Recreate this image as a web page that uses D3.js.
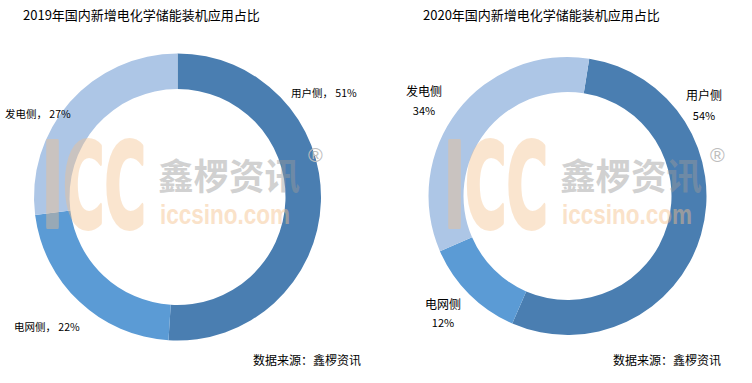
<!DOCTYPE html>
<html><head><meta charset="utf-8">
<script src="https://cdn.jsdelivr.net/npm/d3@7"></script>
<style>
html,body{margin:0;padding:0;background:#fff;}
svg{display:block;font-family:"Noto Sans CJK SC","Microsoft YaHei",sans-serif;}
</style></head>
<body><svg id="c" width="752" height="383"></svg>
<script>
const categories = ["用户侧", "电网侧", "发电侧"];
const values2019 = [51, 22, 27];
const values2020 = [54, 12, 34];
const titles = ["2019年国内新增电化学储能装机应用占比", "2020年国内新增电化学储能装机应用占比"];
const sourceText = "数据来源：鑫椤资讯";
const colors = ["#4a7eb1", "#5b9bd5", "#adc6e6"];

const svg = d3.select("#c");
const color = d3.scaleOrdinal().domain(categories).range(colors);

function watermark(g, x, y) {
  const w = g.append("g").attr("transform", `translate(${x},${y})`);
  w.append("g").attr("opacity", 0.4).append("text").attr("x", 2).attr("y", 87)
    .attr("textLength", 104).attr("lengthAdjust", "spacingAndGlyphs")
    .style("font-family", "'DejaVu Sans',sans-serif")
    .style("font-weight", "bold").style("font-size", "118px")
    .attr("fill", "#f5c08a").attr("stroke", "#f5c08a").attr("stroke-width", 4)
    .attr("stroke-linejoin", "round").text("ICC");
  w.append("g").attr("opacity", 0.45).append("text").attr("x", 118).attr("y", 50)
    .attr("textLength", 142).attr("lengthAdjust", "spacingAndGlyphs")
    .style("font-size", "36px").style("font-weight", "bold")
    .attr("fill", "#9a9a9a").text("鑫椤资讯");
  w.append("g").attr("opacity", 0.45).append("text").attr("x", 120).attr("y", 84)
    .attr("textLength", 130).attr("lengthAdjust", "spacingAndGlyphs")
    .style("font-family", "'Liberation Sans',Arial,sans-serif")
    .style("font-weight", "bold").style("font-size", "28px")
    .attr("fill", "#f5c08a").text("iccsino.com");
  w.append("text").attr("x", 268).attr("y", 22)
    .style("font-family", "'Liberation Sans',Arial,sans-serif")
    .style("font-size", "20px").attr("fill", "#bdbdbd").text("®");
}

function donut(cfg) {
  const g = svg.append("g");
  g.append("text").attr("x", cfg.tx).attr("y", 20)
    .style("font-size", "13px").attr("fill", "#000").text(cfg.title);
  const pie = d3.pie().sort(null).value(d => d.v)
    .startAngle(cfg.start).endAngle(cfg.start + 2 * Math.PI);
  const arc = d3.arc().innerRadius(cfg.ri).outerRadius(cfg.ro);
  const data = categories.map((c, i) => ({c, v: cfg.values[i]}));
  const cg = g.append("g").attr("transform", `translate(${cfg.cx},${cfg.cy})`);
  cg.selectAll("path").data(pie(data)).join("path")
    .attr("d", arc).attr("fill", d => color(d.data.c));
  watermark(g, cfg.wx, cfg.wy);
  cfg.labels(g, data);
  g.append("text").attr("x", cfg.sx).attr("y", 365)
    .style("font-size", "12px").attr("fill", "#000").text(sourceText);
}

donut({
  title: titles[0], tx: 23, values: values2019, cx: 177.5, cy: 197, ro: 143.5, ri: 108,
  start: 0, wx: 40, wy: 140, sx: 253,
  labels: (g, data) => {
    const pos = [[291, 97], [14, 331], [5, 118]];
    data.forEach((d, i) => {
      g.append("text").attr("x", pos[i][0]).attr("y", pos[i][1])
        .style("font-size", "10.5px").attr("fill", "#000")
        .attr("xml:space", "preserve")
        .text(`${d.c}， ${d.v}%`);
    });
  }
});

donut({
  title: titles[1], tx: 423, values: values2020, cx: 567.5, cy: 196, ro: 139, ri: 104,
  start: 9 * Math.PI / 180, wx: 442, wy: 140, sx: 613,
  labels: (g, data) => {
    const pos = [[704, 100, 120], [443, 309, 327], [424, 96, 115]];
    data.forEach((d, i) => {
      g.append("text").attr("x", pos[i][0]).attr("y", pos[i][1])
        .attr("text-anchor", "middle").style("font-size", "12px").attr("fill", "#000").text(d.c);
      g.append("text").attr("x", pos[i][0]).attr("y", pos[i][2])
        .attr("text-anchor", "middle").style("font-size", "11px").attr("fill", "#000").text(d.v + "%");
    });
  }
});
</script></body></html>
